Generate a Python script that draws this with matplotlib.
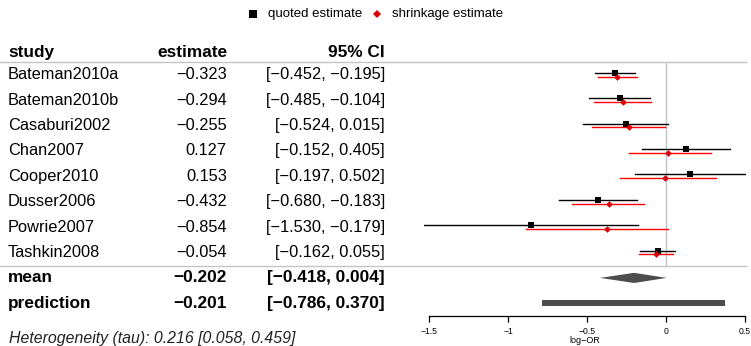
import numpy as np
import matplotlib.pyplot as plt
from matplotlib.lines import Line2D
from matplotlib.patches import Polygon, Rectangle
import matplotlib.transforms as mtransforms

plt.rcParams['font.family'] = ['Liberation Sans', 'DejaVu Sans']

studies = ['Bateman2010a', 'Bateman2010b', 'Casaburi2002', 'Chan2007',
           'Cooper2010', 'Dusser2006', 'Powrie2007', 'Tashkin2008']
est = [-0.323, -0.294, -0.255, 0.127, 0.153, -0.432, -0.854, -0.054]
lo = [-0.452, -0.485, -0.524, -0.152, -0.197, -0.680, -1.530, -0.162]
hi = [-0.195, -0.104, 0.015, 0.405, 0.502, -0.183, -0.179, 0.055]

# shrinkage estimates
shr = [-0.308, -0.272, -0.234, 0.015, -0.004, -0.359, -0.373, -0.065]
shr_lo = [-0.432, -0.454, -0.470, -0.236, -0.289, -0.595, -0.886, -0.173]
shr_hi = [-0.182, -0.097, -0.006, 0.283, 0.316, -0.137, 0.011, 0.044]

mean_est, mean_lo, mean_hi = -0.202, -0.418, 0.004
pred_est, pred_lo, pred_hi = -0.201, -0.786, 0.370
tau, tau_lo, tau_hi = 0.216, 0.058, 0.459

W, H = 751, 346
fig = plt.figure(figsize=(W / 100, H / 100), dpi=100)
ax = fig.add_axes([424 / W, 1 - 316 / H, 322 / W, 254 / H])
ax.set_xlim(-1.532, 0.506)
ax.set_ylim(10.5, 0.5)

rows = np.arange(1, len(studies) + 1)
dy = 0.075
grid_col = '#c4c4c4'

# zero reference line
ax.plot([0, 0], [0.5, 8.55], color=grid_col, lw=1.0, zorder=0)

for i, r in enumerate(rows):
    ax.plot([lo[i], hi[i]], [r - dy, r - dy], color='black', lw=1.0)
    ax.plot([est[i]], [r - dy], marker='s', color='black', ms=4.5, mew=0)
    ax.plot([shr_lo[i], shr_hi[i]], [r + dy, r + dy], color='#ff0000', lw=1.0)
    ax.plot([shr[i]], [r + dy], marker='D', color='#dd0000', ms=3.4, mew=0)

# summary diamond and prediction interval
h = 0.2
ax.add_patch(Polygon([[mean_lo, 9], [mean_est, 9 - h], [mean_hi, 9], [mean_est, 9 + h]],
                     closed=True, color='#4d4d4d', lw=0))
ax.add_patch(Rectangle((pred_lo, 10 - 0.12), pred_hi - pred_lo, 0.24,
                       color='#4d4d4d', lw=0))

for s in ['top', 'left', 'right']:
    ax.spines[s].set_visible(False)
ax.spines['bottom'].set_bounds(-1.5, 0.5)
ax.spines['bottom'].set_linewidth(0.9)
ax.set_yticks([])
ax.set_xticks([-1.5, -1, -0.5, 0, 0.5])
ax.set_xticklabels(['\u22121.5', '\u22121', '\u22120.5', '0', '0.5'])
ax.tick_params(axis='x', length=4, width=0.9, labelsize=6.2, pad=4)
ax.set_xlabel('log\u2212OR', fontsize=6.5, labelpad=0)
ax.patch.set_alpha(0)

# table on the left: x in figure fraction, y in row units
row_tr = mtransforms.blended_transform_factory(fig.transFigure, ax.transData)


def put(x, y, s, ha='left', bold=False):
    fig.text(x / W, y, s, ha=ha, va='center', transform=row_tr,
             fontsize=12.4 if bold else 11.8,
             weight='bold' if bold else 'normal')


def fmt(v):
    return ('%.3f' % v).replace('-', '\u2212')


put(8, 0.12, 'study', bold=True)
put(227, 0.12, 'estimate', ha='right', bold=True)
put(385, 0.12, '95% CI', ha='right', bold=True)

for i, r in enumerate(rows):
    put(8, r, studies[i])
    put(227, r, fmt(est[i]), ha='right')
    put(385, r, '[%s, %s]' % (fmt(lo[i]), fmt(hi[i])), ha='right')

put(8, 9, 'mean', bold=True)
put(227, 9, fmt(mean_est), ha='right', bold=True)
put(385, 9, '[%s, %s]' % (fmt(mean_lo), fmt(mean_hi)), ha='right', bold=True)
put(8, 10, 'prediction', bold=True)
put(227, 10, fmt(pred_est), ha='right', bold=True)
put(385, 10, '[%s, %s]' % (fmt(pred_lo), fmt(pred_hi)), ha='right', bold=True)

fig.text(9 / W, 1 - 338 / H, 'Heterogeneity (tau): %.3f [%.3f, %.3f]' % (tau, tau_lo, tau_hi),
         ha='left', va='center', fontsize=11.4, style='italic', color='#222222')

# horizontal rules across table and plot
for yy in [0.5, 8.55]:
    fig.add_artist(Line2D([0, 746 / W], [yy, yy], color=grid_col, lw=1.0,
                          transform=row_tr))

# legend
ly = 1 - 14 / H
fig.add_artist(Line2D([253 / W], [ly], marker='s', color='black', ms=5.5, mew=0,
                      transform=fig.transFigure))
fig.text(268 / W, ly, 'quoted estimate', ha='left', va='center', fontsize=9.5)
fig.add_artist(Line2D([377 / W], [ly], marker='D', color='#dd0000', ms=4.2, mew=0,
                      transform=fig.transFigure))
fig.text(392 / W, ly, 'shrinkage estimate', ha='left', va='center', fontsize=9.5)

fig.savefig('out.png', dpi=100)
